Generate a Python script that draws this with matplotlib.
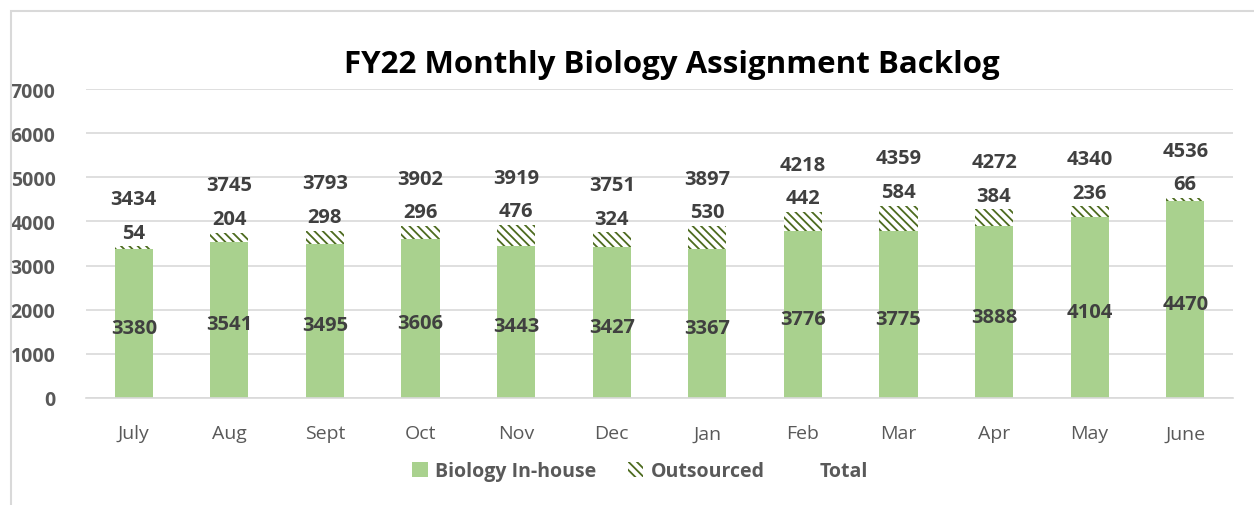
import numpy as np
import matplotlib.pyplot as plt
from matplotlib.patches import Patch, Rectangle

months = ['July', 'Aug', 'Sept', 'Oct', 'Nov', 'Dec', 'Jan', 'Feb', 'Mar', 'Apr', 'May', 'June']
inhouse = [3380, 3541, 3495, 3606, 3443, 3427, 3367, 3776, 3775, 3888, 4104, 4470]
outsourced = [54, 204, 298, 296, 476, 324, 530, 442, 584, 384, 236, 66]
totals = [3434, 3745, 3793, 3902, 3919, 3751, 3897, 4218, 4359, 4272, 4340, 4536]

plt.rcParams['font.family'] = ['Open Sans', 'DejaVu Sans']
green = '#a9d18e'
hatch_col = '#4d6b1f'
txt = '#404040'
axcol = '#595959'

fig = plt.figure(figsize=(12.54, 5.06), dpi=100)
ax = fig.add_axes([86/1254, 1-399/506, (1233-86)/1254, (399-90)/506])

x = np.arange(len(months))
plt.rcParams['hatch.linewidth'] = 1.3
ax.bar(x, inhouse, width=0.4, color=green, zorder=2)
ax.bar(x, outsourced, width=0.4, bottom=inhouse, facecolor='white',
       edgecolor=hatch_col, hatch='\\\\\\\\', linewidth=0, zorder=2)

for i in range(len(months)):
    ax.text(x[i], inhouse[i] / 2 - 100, str(inhouse[i]), ha='center', va='center',
            fontsize=14.5, fontweight='bold', color=txt)
    ax.annotate(str(outsourced[i]), (x[i], totals[i]), xytext=(0, 10),
                textcoords='offset points', ha='center', va='center',
                fontsize=14.5, fontweight='bold', color=txt)
    ax.annotate(str(totals[i]), (x[i], totals[i]), xytext=(0, 34),
                textcoords='offset points', ha='center', va='center',
                fontsize=14.5, fontweight='bold', color=txt)

ax.set_xlim(-0.5, 11.5)
ax.set_ylim(0, 7000)
ax.set_yticks(range(0, 7001, 1000))
ax.set_xticks(x)
ax.set_xticklabels(months, fontsize=14, color=axcol)
ax.tick_params(axis='y', labelsize=14, labelcolor=axcol, length=0, pad=22)
ax.tick_params(axis='x', length=0, pad=19)
for lbl in ax.get_yticklabels():
    lbl.set_fontweight('bold')
ax.grid(axis='y', color='#d9d9d9', linewidth=1.2, zorder=0)
ax.set_axisbelow(True)
for s in ['top', 'right', 'left']:
    ax.spines[s].set_visible(False)
ax.spines['bottom'].set_color('#d9d9d9')
ax.spines['bottom'].set_linewidth(1.2)

fig.text(672/1254, 1-65/506, 'FY22 Monthly Biology Assignment Backlog', ha='center', va='center',
         fontsize=22.5, fontweight='bold', color='black')

handles = [Patch(facecolor=green, label='Biology In-house'),
           Patch(facecolor='white', edgecolor=hatch_col, hatch='\\\\\\\\', linewidth=0, label='Outsourced'),
           Patch(facecolor='none', edgecolor='none', label='Total')]
leg = fig.legend(handles=handles, loc='center', bbox_to_anchor=(640/1254, 1-472/506), ncol=3,
                 frameon=False, handlelength=0.8, handleheight=0.8, handletextpad=0.4,
                 columnspacing=1.6, prop={'weight': 'bold', 'size': 14})
for t in leg.get_texts():
    t.set_color(axcol)

fig.patches.append(Rectangle((11/1254, -0.1), 1.2, 1-12/506 + 0.1, transform=fig.transFigure,
                             fill=False, edgecolor='#d9d9d9', linewidth=1.5))

fig.savefig('out.png', dpi=100)
